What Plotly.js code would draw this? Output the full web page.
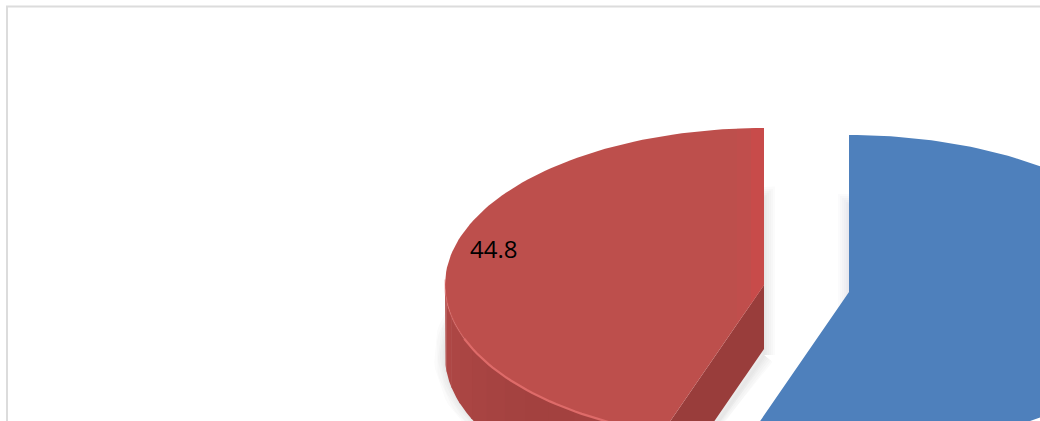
<!DOCTYPE html>
<html>
<head>
<meta charset="utf-8">
<script src="https://cdn.plot.ly/plotly-3.0.1.min.js"></script>
<style>html,body{margin:0;padding:0;background:#fff;overflow:hidden}#chart{width:1040px;height:421px}</style>
</head>
<body>
<div id="chart"></div>
<script>
// Shares of the two slices, in percent
var sliceValues = [55.2, 44.8];
var sliceColors = ['#4E80BC', '#BD4F4C'];
var wallShades = ['#A84442', '#A64341', '#A44240', '#A3413F', '#A3413F', '#A44240', '#A64341', '#A84442', '#AA4543', '#AC4644', '#AE4745', '#B04846'];
var radialWallColor = '#993D3B';
var rimColor = '#DE6B69';
var labelIndex = 1;

// Tilted pie drawn as an ellipse; each exploded slice has its own apex
var RX = 319, RY = 157, CUT_DEPTH = 64, RIM_DEPTH = 71, SHADOW_DROP = 70, STEP = 1.5;
var apexes = [{x: 849, y: 292}, {x: 764, y: 285}];
var total = sliceValues[0] + sliceValues[1];
var sweeps = sliceValues.map(function (v) { return 360 * v / total; });

function rim(apex, deg, drop) {
  var t = deg * Math.PI / 180;
  return [apex.x + RX * Math.sin(t), apex.y - RY * Math.cos(t) + (drop || 0)];
}
function arc(apex, from, to, drop) {
  var pts = [], n = Math.max(2, Math.ceil(Math.abs(to - from) / STEP));
  for (var i = 0; i <= n; i++) pts.push(rim(apex, from + (to - from) * i / n, drop));
  return pts;
}
function sector(apex, from, to, drop) {
  var d = drop || 0;
  return [[apex.x, apex.y + d]].concat(arc(apex, from, to, d), [[apex.x, apex.y + d]]);
}
function area(pts, color) {
  return {type: 'scatter', mode: 'lines', x: pts.map(function (p) { return p[0]; }),
    y: pts.map(function (p) { return p[1]; }), fill: 'toself', fillcolor: color,
    line: {width: 0, color: color}, hoverinfo: 'skip', showlegend: false};
}
function stroke(pts, color, width) {
  return {type: 'scatter', mode: 'lines', x: pts.map(function (p) { return p[0]; }),
    y: pts.map(function (p) { return p[1]; }),
    line: {width: width, color: color, shape: 'linear'}, hoverinfo: 'skip', showlegend: false};
}

var blue = apexes[0], red = apexes[1];
var redStart = 360 - sweeps[1];
var traces = [];

// Soft drop shadow under both slices, built from widening translucent outlines
[22, 18, 14, 10, 6, 3].forEach(function (w) {
  traces.push(stroke(sector(red, redStart, 360, SHADOW_DROP), 'rgba(60,60,70,0.02)', w));
  traces.push(stroke(sector(blue, 0, sweeps[0], SHADOW_DROP), 'rgba(60,60,90,0.02)', w));
});

// Outer wall of the red slice, shaded in bands around the rim
var wallEnd = 270, bandSpan = (wallEnd - redStart) / wallShades.length;
wallShades.forEach(function (c, i) {
  var a = redStart + bandSpan * i, b = a + bandSpan + 0.5;
  traces.push(area(arc(red, a, b, 0).concat(arc(red, b, a, RIM_DEPTH)), c));
});
// Cut wall of the red slice
var cut = rim(red, redStart);
traces.push(area([[red.x, red.y], [red.x, red.y + CUT_DEPTH], [cut[0], cut[1] + CUT_DEPTH], cut], radialWallColor));

// Top faces
traces.push(area(sector(red, redStart, 360), sliceColors[1]));

// Brighter strips next to the vertical cut of the red face, ending on the cut edge
var cutSlope = (cut[1] - red.y) / (red.x - cut[0]);
[[27, 'rgba(206,78,78,0.22)'], [13, 'rgba(212,72,72,0.38)']].forEach(function (s) {
  var w = s[0], left = red.x - w;
  var top = red.y - RY * Math.sqrt(1 - Math.pow(w / RX, 2));
  traces.push(area([[left, top], [red.x, red.y - RY], [red.x, red.y], [left, red.y + w * cutSlope]], s[1]));
});

// Highlight along the front rim of the red face
traces.push(stroke(arc(red, 272, 250), 'rgba(222,107,105,0.45)', 1.5));
traces.push(stroke(arc(red, 250, redStart), rimColor, 2.2));

traces.push(area(sector(blue, 0, sweeps[0]), sliceColors[0]));

// Value label
traces.push({type: 'scatter', mode: 'text', x: [470], y: [252],
  text: [String(sliceValues[labelIndex])], textposition: 'middle right',
  textfont: {family: 'Open Sans, sans-serif', size: 24, color: '#000'},
  hoverinfo: 'skip', showlegend: false, cliponaxis: false});

var hidden = {visible: false, fixedrange: true, autorange: false};
var layout = {
  width: 1040, height: 421, margin: {l: 0, r: 0, t: 0, b: 0},
  paper_bgcolor: '#fff', plot_bgcolor: '#fff', showlegend: false,
  xaxis: Object.assign({range: [0, 1040]}, hidden),
  yaxis: Object.assign({range: [421, 0]}, hidden),
  shapes: [{type: 'rect', xref: 'x', yref: 'y', x0: 7, y0: 6.5, x1: 1200, y1: 700,
    line: {color: '#DCDCDC', width: 2}, fillcolor: 'rgba(0,0,0,0)', layer: 'below'}]
};
Plotly.newPlot('chart', traces, layout, {displayModeBar: false, staticPlot: true});
</script>
</body>
</html>
